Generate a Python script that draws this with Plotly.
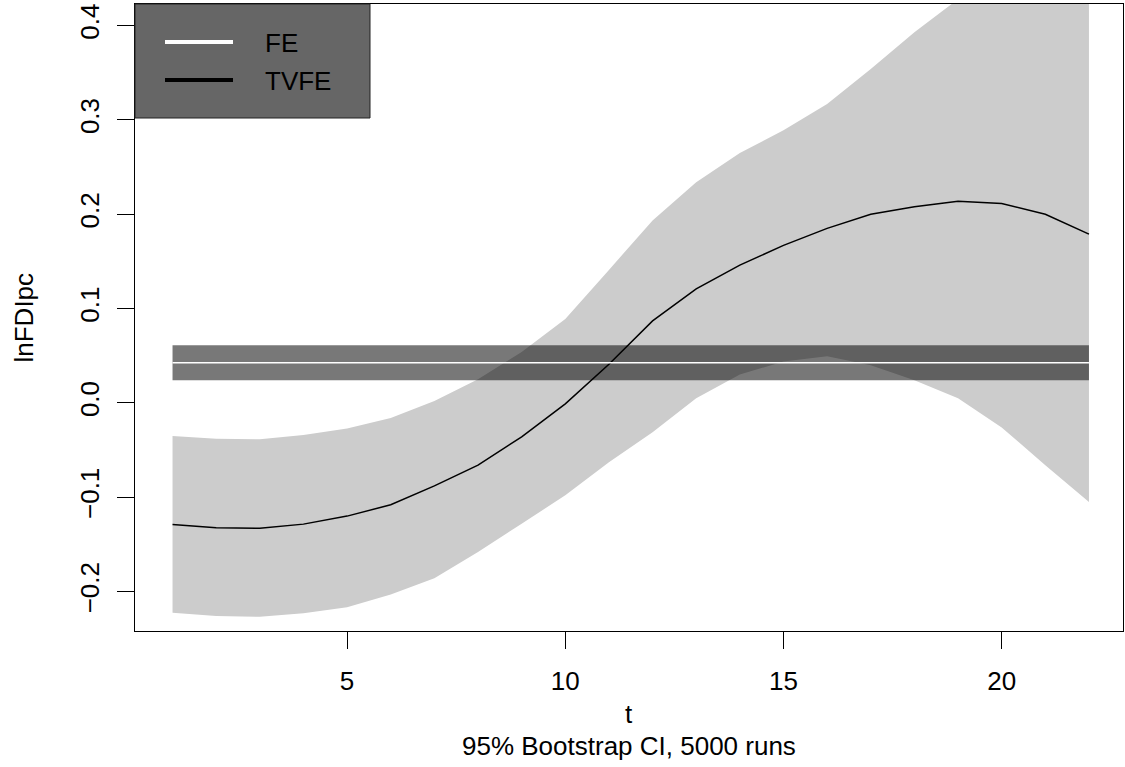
import plotly.graph_objects as go

# ---- data ----
t = list(range(1, 23))
tvfe = [-0.1288, -0.1324, -0.1330, -0.1285, -0.1200, -0.1080, -0.0880, -0.0660,
        -0.0360, -0.0010, 0.0410, 0.0870, 0.1210, 0.1460, 0.1670, 0.1850,
        0.2000, 0.2080, 0.2137, 0.2115, 0.2000, 0.1790]
ci_upper = [-0.0350, -0.0380, -0.0385, -0.0340, -0.0270, -0.0160, 0.0020, 0.0250,
            0.0540, 0.0890, 0.1410, 0.1935, 0.2340, 0.2650, 0.2890, 0.3170,
            0.3540, 0.3930, 0.4280, 0.4600, 0.5000, 0.5400]
ci_lower = [-0.2225, -0.2260, -0.2267, -0.2230, -0.2165, -0.2030, -0.1860, -0.1580,
            -0.1280, -0.0980, -0.0630, -0.0310, 0.0050, 0.0300, 0.0440, 0.0495,
            0.0400, 0.0240, 0.0050, -0.0260, -0.0660, -0.1050]
fe_est = 0.0425
fe_lower = 0.0240
fe_upper = 0.0610

x_ticks = [5, 10, 15, 20]
y_ticks = [-0.2, -0.1, 0.0, 0.1, 0.2, 0.3, 0.4]
legend_labels = ["FE", "TVFE"]
x_title = "t"
y_title = "lnFDIpc"
subtitle = "95% Bootstrap CI, 5000 runs"

FONT = "Liberation Sans, Arial, sans-serif"
FS = 26

W, H = 1125, 767
L, R, T, B = 135, 1123, 4, 631   # plot area in pixels


def px_x(px):
    return (px - L) / (R - L)


def px_y(py):
    return (B - py) / (B - T)


fig = go.Figure()

# CI band (light grey)
fig.add_trace(go.Scatter(x=t, y=ci_upper, mode="lines", line=dict(width=0),
                         showlegend=False, hoverinfo="skip"))
fig.add_trace(go.Scatter(x=t, y=ci_lower, mode="lines", line=dict(width=0),
                         fill="tonexty", fillcolor="#cccccc",
                         showlegend=False, hoverinfo="skip"))

# TVFE line
fig.add_trace(go.Scatter(x=t, y=tvfe, mode="lines",
                         line=dict(color="black", width=1.5),
                         name=legend_labels[1], showlegend=False))

# FE band (semi-transparent dark)
t_fe = [t[0], t[-1]]
fig.add_trace(go.Scatter(x=t_fe, y=[fe_upper] * 2, mode="lines", line=dict(width=0),
                         showlegend=False, hoverinfo="skip"))
fig.add_trace(go.Scatter(x=t_fe, y=[fe_lower] * 2, mode="lines", line=dict(width=0),
                         fill="tonexty", fillcolor="rgba(0,0,0,0.53)",
                         showlegend=False, hoverinfo="skip"))
# FE estimate line
fig.add_trace(go.Scatter(x=t_fe, y=[fe_est] * 2, mode="lines",
                         line=dict(color="white", width=1.5),
                         name=legend_labels[0], showlegend=False))

axis_common = dict(showgrid=False, zeroline=False, showline=True, linecolor="black",
                   linewidth=1, mirror=True, ticks="outside", ticklen=17,
                   tickcolor="black", tickwidth=1,
                   tickfont=dict(family=FONT, size=FS, color="black"))

fig.update_xaxes(range=[0.14, 22.78], tickvals=x_ticks,
                 ticktext=[str(v) for v in x_ticks], ticklabelstandoff=10,
                 **axis_common)
fig.update_yaxes(range=[-0.2418, 0.4229], tickvals=y_ticks,
                 tickformat=".1f", tickangle=-90, ticklabelstandoff=8,
                 **axis_common)

# manual legend
shapes = [
    dict(type="rect", xref="paper", yref="paper", x0=px_x(135), x1=px_x(370),
         y0=px_y(118), y1=px_y(4), fillcolor="#666666",
         line=dict(color="#222222", width=1), layer="above"),
    dict(type="line", xref="paper", yref="paper", x0=px_x(165), x1=px_x(233),
         y0=px_y(42), y1=px_y(42), line=dict(color="white", width=4), layer="above"),
    dict(type="line", xref="paper", yref="paper", x0=px_x(165), x1=px_x(233),
         y0=px_y(80), y1=px_y(80), line=dict(color="black", width=4), layer="above"),
]

annotations = [
    dict(text=legend_labels[0], xref="paper", yref="paper", x=px_x(263), y=px_y(43),
         xanchor="left", yanchor="middle", showarrow=False,
         font=dict(family=FONT, size=FS, color="black")),
    dict(text=legend_labels[1], xref="paper", yref="paper", x=px_x(263), y=px_y(81),
         xanchor="left", yanchor="middle", showarrow=False,
         font=dict(family=FONT, size=FS, color="black")),
    dict(text=x_title, xref="paper", yref="paper", x=0.5, y=px_y(714),
         xanchor="center", yanchor="middle", showarrow=False,
         font=dict(family=FONT, size=FS, color="black")),
    dict(text=subtitle, xref="paper", yref="paper", x=0.5, y=px_y(746),
         xanchor="center", yanchor="middle", showarrow=False,
         font=dict(family=FONT, size=FS, color="black")),
    dict(text=y_title, xref="paper", yref="paper", x=px_x(23), y=0.5,
         xanchor="center", yanchor="middle", showarrow=False, textangle=-90,
         font=dict(family=FONT, size=FS, color="black")),
]

fig.update_layout(
    width=W, height=H,
    margin=dict(l=L, r=W - R, t=T, b=H - B, pad=0),
    plot_bgcolor="white", paper_bgcolor="white",
    showlegend=False,
    shapes=shapes, annotations=annotations,
    font=dict(family=FONT, size=FS, color="black"),
)

fig.write_html("out.html")
